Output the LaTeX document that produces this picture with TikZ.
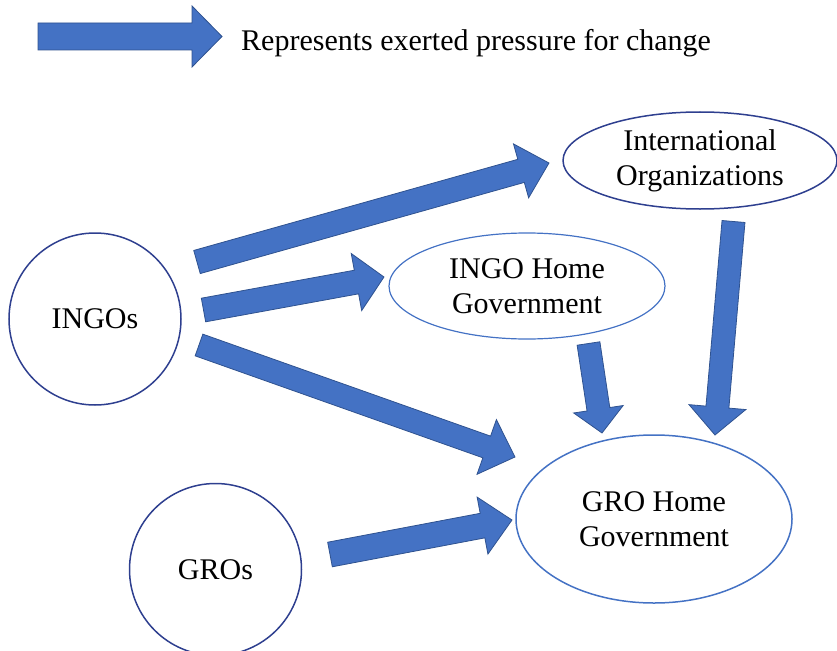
\documentclass[tikz,border=0pt]{standalone}
\usepackage{fontspec}
\setmainfont{Liberation Serif}
\usetikzlibrary{shapes.geometric,calc}
\definecolor{arrfill}{HTML}{4472C4}
\definecolor{arredge}{HTML}{2F528F}
\definecolor{darkedge}{HTML}{2E3F8F}
\definecolor{lightedge}{HTML}{4472C4}
\tikzset{
  pressure/.style={fill=arrfill, draw=arredge, line width=0.8pt, line join=miter},
  actor/.style={circle, draw=darkedge, line width=1.5pt, minimum size=172pt, inner sep=0pt,
    font=\fontsize{30}{35}\selectfont},
  bodyell/.style={ellipse, line width=1.5pt, inner sep=0pt, align=center,
    font=\fontsize{30}{35}\selectfont},
  legendtext/.style={anchor=base west, inner sep=0pt, font=\fontsize{30}{35}\selectfont}
}
% #1 tail, #2 tip, #3 shaft half width, #4 head half width, #5 head length (pt numbers)
\newcommand\blockarr[5]{%
  \path let \p1=(#1), \p2=(#2) in \pgfextra{%
    \pgfmathsetmacro\bang{atan2(\y2-\y1,\x2-\x1)}%
    \pgfmathsetmacro\blen{veclen(\x2-\x1,\y2-\y1)}%
    \xdef\bxa{\x1}\xdef\bya{\y1}\global\let\bangg\bang\global\let\blenn\blen};
  \begin{scope}[shift={(\bxa,\bya)}, rotate=\bangg]
    \draw[pressure] (0pt,#3pt) -- ({\blenn pt-#5pt},#3pt) -- ({\blenn pt-#5pt},#4pt)
      -- (\blenn pt,0pt) -- ({\blenn pt-#5pt},-#4pt) -- ({\blenn pt-#5pt},-#3pt)
      -- (0pt,-#3pt) -- cycle;
  \end{scope}}
\begin{document}
\begin{tikzpicture}[x=1pt,y=-1pt]
\useasboundingbox (0,0) rectangle (837,650);

% legend
\coordinate (legtail) at (38,36.5);
\coordinate (legtip) at (222,36.5);
\blockarr{legtail}{legtip}{13.5}{30.5}{30}
\node[legendtext] (legtext) at (241,51) {Represents exerted pressure for change};

% nodes
\node[actor] (ingos) at (95,319) {INGOs};
\node[actor] (gros) at (215.5,569.5) {GROs};
\node[bodyell, draw=darkedge, minimum width=274pt, minimum height=97pt] (io) at (700,160.5) {International\\Organizations};
\node[bodyell, draw=lightedge, line width=1.2pt, minimum width=276pt, minimum height=106pt] (ihg) at (527,286) {INGO Home\\Government};
\node[bodyell, draw=lightedge, minimum width=276pt, minimum height=168pt] (ghg) at (654,519) {GRO Home\\Government};

% arrow end points
\coordinate (a1t) at (197,262);   \coordinate (a1h) at (549,163);
\coordinate (a2t) at (203.5,310); \coordinate (a2h) at (384,277);
\coordinate (a3t) at (199,345);   \coordinate (a3h) at (515,457);
\coordinate (a4t) at (330,554.5); \coordinate (a4h) at (512,520);
\coordinate (a5t) at (588.5,343.5); \coordinate (a5h) at (602,433);
\coordinate (a6t) at (733.5,221.5); \coordinate (a6h) at (715,435);

\blockarr{a1t}{a1h}{12}{28}{29}
\blockarr{a2t}{a2h}{12}{29}{28}
\blockarr{a3t}{a3h}{11.5}{29}{30}
\blockarr{a4t}{a4h}{12.5}{29}{30}
\blockarr{a5t}{a5h}{11.5}{25}{24}
\blockarr{a6t}{a6h}{11.5}{28.5}{28}
\end{tikzpicture}
\end{document}
